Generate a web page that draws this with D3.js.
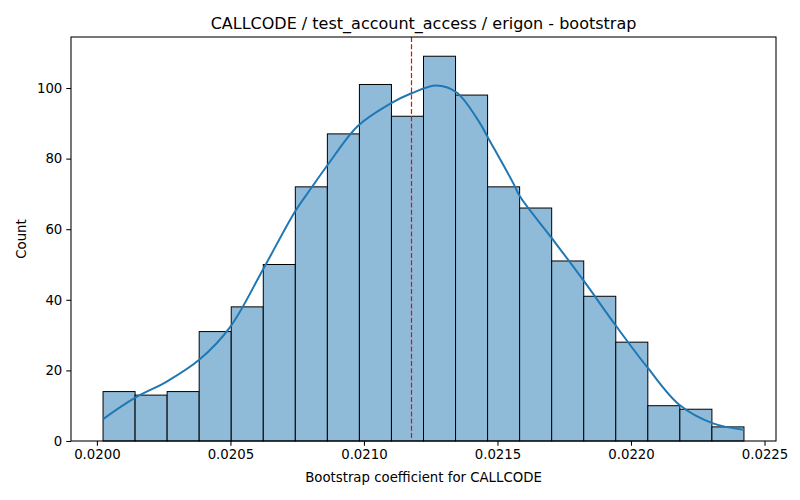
<!DOCTYPE html>
<html>
<head>
<meta charset="utf-8">
<script src="https://cdn.jsdelivr.net/npm/d3@7"></script>
<style>
  body { margin: 0; background: #fff; }
  svg { font-family: "DejaVu Sans", sans-serif; }
</style>
</head>
<body>
<div id="chart"></div>
<script>
// histogram bin edges (data units) and counts per bin
var binEdges = [0.020023, 0.020143, 0.020263, 0.020383, 0.020503, 0.020623, 0.020743,
    0.020863, 0.020983, 0.021103, 0.021223, 0.021343, 0.021463, 0.021583, 0.021703,
    0.021823, 0.021943, 0.022063, 0.022183, 0.022303, 0.022423];
var counts = [14, 13, 14, 31, 38, 50, 72, 87, 101, 92, 109, 98, 72, 66, 51, 41, 28, 10, 9, 4];

// kde curve (x, count)
var kdeX = [0.020023, 0.020142, 0.020263, 0.020383, 0.020498, 0.020622, 0.020741, 0.020804,
    0.020866, 0.020978, 0.021097, 0.021178, 0.021271, 0.021346, 0.021433, 0.021464, 0.021558,
    0.021583, 0.021702, 0.021820, 0.021945, 0.022063, 0.022182, 0.022307, 0.022423];
var kdeY = [6.2, 12.2, 16.9, 23.0, 32.2, 48.6, 64.9, 71.8, 78.4, 89.3, 95.5, 98.5, 100.7,
    98.8, 90.2, 86.0, 73.2, 69.4, 57.6, 45.7, 32.5, 20.7, 10.2, 5.0, 3.2];

var meanValue = 0.021178;

var xTicks = [0.0200, 0.0205, 0.0210, 0.0215, 0.0220, 0.0225];
var yTicks = [0, 20, 40, 60, 80, 100];

var titleText = "CALLCODE / test_account_access / erigon - bootstrap";
var xLabel = "Bootstrap coefficient for CALLCODE";
var yLabel = "Count";

function main() {
    var margin = { top: 37, right: 24, bottom: 59, left: 71 },
        width = 800 - margin.left - margin.right,
        height = 500 - margin.top - margin.bottom;

    var svg = d3.select("#chart")
        .append("svg")
        .attr("width", 800)
        .attr("height", 500);

    var g = svg.append("g")
        .attr("transform", "translate(" + margin.left + "," + margin.top + ")");

    // matplotlib style 5% padding on x
    var lo = binEdges[0], hi = binEdges[binEdges.length - 1];
    var pad = (hi - lo) * 0.05;
    var x = d3.scaleLinear()
        .domain([lo - pad, hi + pad])
        .range([0, width]);

    var yMax = d3.max(counts) * 1.05;
    var y = d3.scaleLinear()
        .domain([0, yMax])
        .range([height, 0]);

    // bars
    var bins = counts.map(function (c, i) { return { x0: binEdges[i], x1: binEdges[i + 1], count: c }; });
    g.append("g")
        .selectAll("rect")
        .data(bins)
        .enter()
        .append("rect")
        .attr("x", function (d) { return x(d.x0); })
        .attr("y", function (d) { return y(d.count); })
        .attr("width", function (d) { return x(d.x1) - x(d.x0); })
        .attr("height", function (d) { return y(0) - y(d.count); })
        .attr("fill", "#8fbbd9")
        .attr("stroke", "#000")
        .attr("stroke-width", 1);

    // kde line
    var kde = kdeX.map(function (v, i) { return [v, kdeY[i]]; });
    var line = d3.line()
        .x(function (d) { return x(d[0]); })
        .y(function (d) { return y(d[1]); })
        .curve(d3.curveCatmullRom.alpha(0.5));
    g.append("path")
        .datum(kde)
        .attr("d", line)
        .attr("fill", "none")
        .attr("stroke", "#1f77b4")
        .attr("stroke-width", 2);

    // mean line
    var mx = Math.round(x(meanValue)) + 0.5;
    g.append("line")
        .attr("x1", mx)
        .attr("x2", mx)
        .attr("y1", 0)
        .attr("y2", height)
        .attr("stroke", "#ff0000")
        .attr("stroke-width", 1.2)
        .attr("stroke-dasharray", "5,2.2");

    // axes
    var xAxis = g.append("g")
        .attr("transform", "translate(0," + height + ")")
        .call(d3.axisBottom(x).tickValues(xTicks).tickFormat(d3.format(".4f")).tickSize(4.7).tickPadding(4));
    var yAxis = g.append("g")
        .call(d3.axisLeft(y).tickValues(yTicks).tickSize(4.7).tickPadding(4));
    [xAxis, yAxis].forEach(function (a) {
        a.select(".domain").remove();
        a.selectAll("text").attr("font-size", "13.3px").attr("fill", "#000")
            .attr("font-family", "DejaVu Sans, sans-serif");
        a.selectAll("line").attr("stroke", "#000").attr("stroke-width", 1.07);
    });

    // frame
    g.append("rect")
        .attr("width", width)
        .attr("height", height)
        .attr("fill", "none")
        .attr("stroke", "#000")
        .attr("stroke-width", 1.07);

    // labels
    svg.append("text")
        .attr("x", margin.left + width / 2)
        .attr("y", 29)
        .attr("text-anchor", "middle")
        .style("font-size", "16px")
        .text(titleText);

    svg.append("text")
        .attr("x", margin.left + width / 2)
        .attr("y", 482)
        .attr("text-anchor", "middle")
        .style("font-size", "13.3px")
        .text(xLabel);

    svg.append("text")
        .attr("transform", "translate(26," + (margin.top + height / 2) + ") rotate(-90)")
        .attr("text-anchor", "middle")
        .style("font-size", "13.3px")
        .text(yLabel);
}
window.addEventListener('load', main);
</script>
</body>
</html>
